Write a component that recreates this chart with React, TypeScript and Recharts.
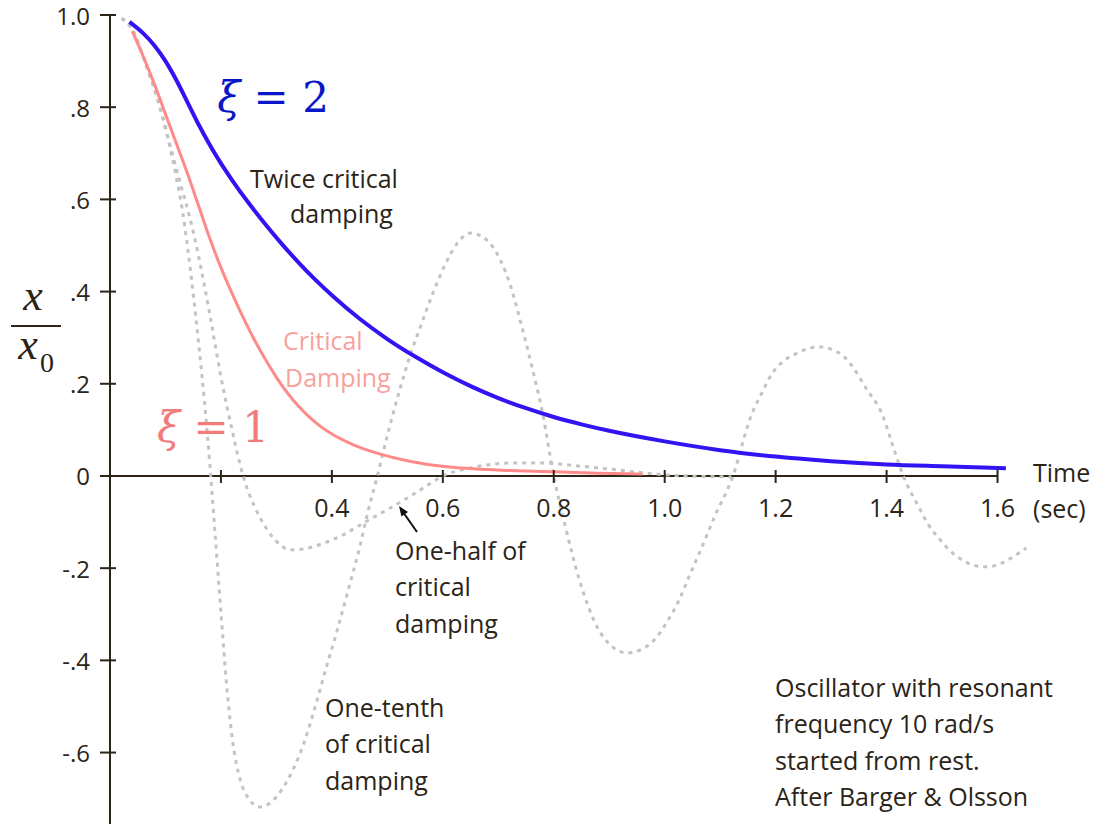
import React from "react";
import { LineChart, Line, XAxis, YAxis, ReferenceLine, ReferenceDot } from "recharts";

// displacement x/x0 against time (s)
const oneTenth = [
  [0.021, 0.993], [0.04, 0.97], [0.066, 0.887], [0.085, 0.82], [0.102, 0.744],
  [0.12, 0.645], [0.13, 0.58], [0.14, 0.495], [0.15, 0.395], [0.16, 0.285],
  [0.17, 0.165], [0.18, 0.025], [0.19, -0.135], [0.2, -0.295], [0.21, -0.45],
  [0.22, -0.565], [0.235, -0.66], [0.25, -0.7], [0.27, -0.718], [0.29, -0.708],
  [0.31, -0.68], [0.33, -0.637], [0.35, -0.578], [0.37, -0.5], [0.39, -0.415],
  [0.41, -0.333], [0.43, -0.245], [0.45, -0.155], [0.465, -0.078], [0.482, 0.0],
  [0.5, 0.088], [0.523, 0.19], [0.54, 0.258], [0.56, 0.325], [0.58, 0.39],
  [0.602, 0.453], [0.625, 0.503], [0.65, 0.527], [0.67, 0.52], [0.69, 0.497],
  [0.705, 0.465], [0.72, 0.42], [0.74, 0.335], [0.76, 0.24], [0.78, 0.135],
  [0.8, 0.0], [0.82, -0.105], [0.846, -0.225], [0.878, -0.327], [0.905, -0.37],
  [0.933, -0.384], [0.96, -0.375], [0.981, -0.356], [1.005, -0.315], [1.026, -0.269],
  [1.045, -0.215], [1.065, -0.16], [1.09, -0.088], [1.123, 0.0], [1.155, 0.128],
  [1.175, 0.18], [1.194, 0.223], [1.215, 0.25], [1.238, 0.266], [1.26, 0.277],
  [1.281, 0.28], [1.3, 0.275], [1.323, 0.259], [1.34, 0.235], [1.361, 0.194],
  [1.394, 0.128], [1.41, 0.07], [1.43, 0.0], [1.458, -0.067], [1.475, -0.105],
  [1.497, -0.139], [1.515, -0.163], [1.536, -0.182], [1.555, -0.193], [1.578, -0.197],
  [1.6, -0.193], [1.619, -0.182], [1.635, -0.17], [1.652, -0.156],
];

const oneHalf = [
  [0.021, 0.993], [0.04, 0.968], [0.066, 0.89], [0.09, 0.8], [0.11, 0.71],
  [0.128, 0.63], [0.144, 0.56], [0.16, 0.475], [0.18, 0.35], [0.2, 0.215],
  [0.22, 0.1], [0.24, 0.0], [0.26, -0.065], [0.28, -0.11], [0.3, -0.142],
  [0.325, -0.16], [0.35, -0.158], [0.38, -0.148], [0.42, -0.128], [0.46, -0.1],
  [0.5, -0.073], [0.54, -0.045], [0.57, -0.022], [0.6, 0.0], [0.64, 0.015],
  [0.68, 0.024], [0.72, 0.028], [0.78, 0.028], [0.85, 0.021], [0.9, 0.015],
  [0.96, 0.007], [1.02, 0.001], [1.12, -0.002],
];

const critical = [
  [0.04, 0.965], [0.06, 0.91], [0.08, 0.85], [0.1, 0.785], [0.12, 0.72],
  [0.14, 0.655], [0.16, 0.585], [0.18, 0.515], [0.2, 0.452], [0.22, 0.396],
  [0.24, 0.344], [0.26, 0.296], [0.28, 0.253], [0.3, 0.214], [0.32, 0.18],
  [0.34, 0.151], [0.36, 0.127], [0.38, 0.107], [0.4, 0.091], [0.44, 0.067],
  [0.48, 0.05], [0.54, 0.032], [0.6, 0.021], [0.66, 0.015], [0.72, 0.012],
  [0.8, 0.009], [0.88, 0.006], [0.96, 0.004],
];

const twiceCritical = [
  [0.035, 0.985], [0.06, 0.96], [0.08, 0.934], [0.1, 0.9], [0.12, 0.858],
  [0.14, 0.81], [0.16, 0.762], [0.18, 0.718], [0.2, 0.678], [0.22, 0.642],
  [0.25, 0.592], [0.28, 0.546], [0.31, 0.503], [0.34, 0.463], [0.37, 0.426],
  [0.4, 0.392], [0.45, 0.341], [0.5, 0.297], [0.55, 0.259], [0.6, 0.225],
  [0.65, 0.195], [0.7, 0.169], [0.75, 0.147], [0.8, 0.128], [0.85, 0.112],
  [0.9, 0.098], [1.0, 0.075], [1.1, 0.056], [1.2, 0.042], [1.3, 0.032],
  [1.4, 0.025], [1.5, 0.021], [1.615, 0.017],
];

const xTicks = [0.2, 0.4, 0.6, 0.8, 1.0, 1.2, 1.4, 1.6];
const xTickLabels = ["", "0.4", "0.6", "0.8", "1.0", "1.2", "1.4", "1.6"];
const yTicks = [-0.6, -0.4, -0.2, 0, 0.2, 0.4, 0.6, 0.8, 1.0];
const yTickLabels = ["-.6", "-.4", "-.2", "0", ".2", ".4", ".6", ".8", "1.0"];

const INK = "#2b2417";
const PINK = "#ff8a8a";
const BLUE = "#3214f2";
const GREY = "#c3c3c3";
const SANS = "'Open Sans', 'Noto Sans', sans-serif";
const SERIF = "'DejaVu Serif', serif";

const toRows = (pts: number[][]) => pts.map(([t, x]) => ({ t, x }));

// text blocks placed in data coordinates
const notes = [
  { t: 0.2524, v: 0.6464, lines: ["Twice critical"], color: INK },
  { t: 0.3245, v: 0.5705, lines: ["damping"], color: INK },
  { t: 0.3119, v: 0.295, lines: ["Critical"], color: "#f7a29d" },
  { t: 0.3155, v: 0.2148, lines: ["Damping"], color: "#f7a29d" },
  { t: 0.5138, v: -0.1605, lines: ["One-half of", "critical", "damping"], color: INK },
  { t: 0.3876, v: -0.5011, lines: ["One-tenth", "of critical", "damping"], color: INK },
  {
    t: 1.1989,
    v: -0.4577,
    lines: ["Oscillator with resonant", "frequency 10 rad/s", "started from rest.", "After Barger & Olsson"],
    color: INK,
  },
  { t: 1.664, v: 0.0087, lines: ["Time", "(sec)"], color: INK },
];

function YTick(props: any) {
  const { x, y, payload } = props;
  const i = yTicks.findIndex((v) => Math.abs(v - payload.value) < 1e-9);
  return (
    <g>
      <line x1={x - 10} x2={x + 6} y1={y} y2={y} stroke={INK} strokeWidth={2} />
      <text x={x - 20} y={y} textAnchor="end" dominantBaseline="central" fontFamily={SANS} fontSize={24} fill={INK}>
        {yTickLabels[i]}
      </text>
    </g>
  );
}

function NoteShape({ cx, cy, lines, color }: any) {
  return (
    <text x={cx} y={cy} fontFamily={SANS} fontSize={25} fill={color} dominantBaseline="central">
      {lines.map((s: string, i: number) => (
        <tspan key={i} x={cx} dy={i === 0 ? 0 : 36.5}>
          {s}
        </tspan>
      ))}
    </text>
  );
}

function Xi({ cx, cy, value, color }: any) {
  return (
    <text x={cx} y={cy} fontFamily={SERIF} fontSize={42} fill={color} textAnchor="middle" dominantBaseline="central">
      <tspan fontStyle="italic">ξ</tspan>
      <tspan> = {value}</tspan>
    </text>
  );
}

function XTick({ cx, cy, label }: any) {
  return (
    <g>
      <line x1={cx} x2={cx} y1={cy - 6} y2={cy + 7} stroke={INK} strokeWidth={2} />
      <text x={cx} y={cy + 31} textAnchor="middle" dominantBaseline="central" fontFamily={SANS} fontSize={25} fill={INK}>
        {label}
      </text>
    </g>
  );
}

function Arrow({ cx, cy }: any) {
  return (
    <g>
      <line x1={cx + 18} y1={cy + 26} x2={cx + 4} y2={cy + 6} stroke="#111" strokeWidth={2} />
      <polygon points={`${cx},${cy} ${cx + 9},${cy + 6} ${cx + 2.4},${cy + 10.5}`} fill="#111" />
    </g>
  );
}

function YLabel({ cx, cy }: any) {
  const serif = "'Liberation Serif', serif";
  return (
    <g fill={INK}>
      <text x={cx - 3} y={cy - 16} textAnchor="middle" fontFamily={serif} fontStyle="italic" fontSize={44}>
        x
      </text>
      <line x1={cx - 25} x2={cx + 25} y1={cy} y2={cy} stroke={INK} strokeWidth={2} />
      <text x={cx - 8} y={cy + 33} textAnchor="middle" fontFamily={serif} fontStyle="italic" fontSize={44}>
        x
      </text>
      <text x={cx + 11} y={cy + 46} textAnchor="middle" fontFamily={serif} fontSize={28}>
        0
      </text>
    </g>
  );
}

export default function App() {
  return (
    <div style={{ position: "absolute", left: 0, top: 0, width: 1095, height: 824, background: "#fff" }}>
      <LineChart width={1095} height={824} margin={{ top: 15, right: 42, bottom: 0, left: 50 }}>
        <XAxis type="number" dataKey="t" domain={[0, 1.7]} hide allowDataOverflow />
        <YAxis
          type="number"
          domain={[-0.755, 1]}
          ticks={yTicks}
          interval={0}
          width={60}
          tickSize={0}
          tickMargin={0}
          tickLine={false}
          axisLine={{ stroke: INK, strokeWidth: 2 }}
          tick={<YTick />}
          allowDataOverflow
        />

        <ReferenceLine segment={[{ x: 0, y: 0 }, { x: 1.6, y: 0 }]} stroke={INK} strokeWidth={2} ifOverflow="visible" />
        {xTicks.map((t, i) => (
          <ReferenceDot key={t} x={t} y={0} r={0} ifOverflow="visible" shape={(p: any) => <XTick {...p} label={xTickLabels[i]} />} />
        ))}

        <Line data={toRows(oneTenth)} dataKey="x" type="monotone" stroke={GREY} strokeWidth={3} strokeDasharray="4 5" dot={false} isAnimationActive={false} />
        <Line data={toRows(oneHalf)} dataKey="x" type="monotone" stroke={GREY} strokeWidth={3} strokeDasharray="4 5" dot={false} isAnimationActive={false} />
        <Line data={toRows(critical)} dataKey="x" type="monotone" stroke={PINK} strokeWidth={3} dot={false} isAnimationActive={false} />
        <Line data={toRows(twiceCritical)} dataKey="x" type="monotone" stroke={BLUE} strokeWidth={4} dot={false} isAnimationActive={false} />

        {notes.map((n, i) => (
          <ReferenceDot key={`n${i}`} x={n.t} y={n.v} r={0} ifOverflow="visible" shape={(p: any) => <NoteShape {...p} lines={n.lines} color={n.color} />} />
        ))}
        <ReferenceDot x={0.2939} y={0.8221} r={0} ifOverflow="visible" shape={(p: any) => <Xi {...p} value="2" color="#0a16c8" />} />
        <ReferenceDot x={0.1857} y={0.1063} r={0} ifOverflow="visible" shape={(p: any) => <Xi {...p} value="1" color="#f27c7c" />} />
        <ReferenceDot x={0.521} y={-0.0651} r={0} ifOverflow="visible" shape={(p: any) => <Arrow {...p} />} />
        <ReferenceDot x={-0.1334} y={0.3254} r={0} ifOverflow="visible" shape={(p: any) => <YLabel {...p} />} />
      </LineChart>
    </div>
  );
}
